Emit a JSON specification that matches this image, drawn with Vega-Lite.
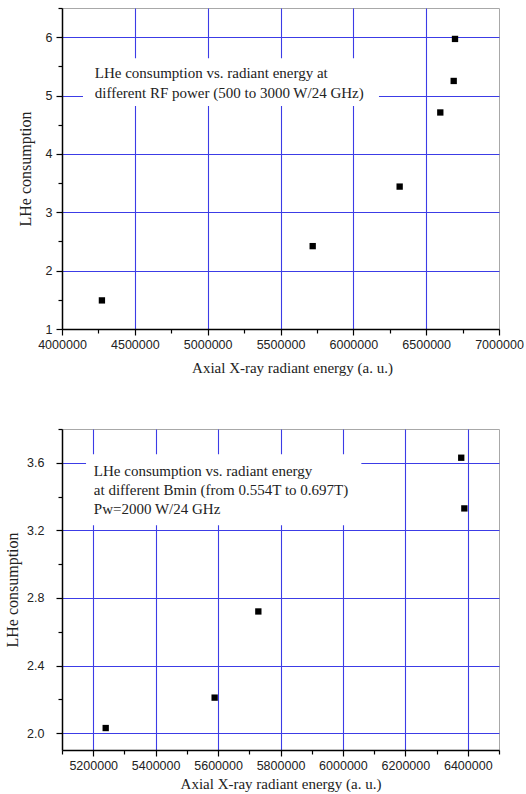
{
  "$schema": "https://vega.github.io/schema/vega-lite/v6.json",
  "padding": {"left": 4, "top": 1, "right": 0, "bottom": 0},
  "bounds": "flush",
  "spacing": 100,
  "datasets": {
    "top": [
      {"energy": 4274000, "lhe": 1.49},
      {"energy": 5721000, "lhe": 2.42},
      {"energy": 6318000, "lhe": 3.44},
      {"energy": 6597000, "lhe": 4.71},
      {"energy": 6689000, "lhe": 5.25},
      {"energy": 6698000, "lhe": 5.97}
    ],
    "bottom": [
      {"energy": 5240000, "lhe": 2.03},
      {"energy": 5589000, "lhe": 2.21},
      {"energy": 5729000, "lhe": 2.72},
      {"energy": 6379000, "lhe": 3.63},
      {"energy": 6389000, "lhe": 3.33}
    ]
  },
  "config": {
    "view": {"stroke": "#a8a8a8", "strokeWidth": 1},
    "axis": {
      "domainColor": "black", "domainWidth": 1.5,
      "tickColor": "black", "tickWidth": 1.2, "tickCount": 100,
      "grid": true, "gridColor": "#3c3ce6", "gridWidth": 1.1,
      "labelFont": "Liberation Sans", "labelFontSize": 12.5, "labelColor": "#222",
      "titleFont": "Liberation Serif", "titleFontSize": 15, "titleFontWeight": "normal", "titleColor": "#222",
      "labelFlush": false, "labelOverlap": false
    },
    "axisY": {"titleFontSize": 16}
  },
  "vconcat": [
    {
      "width": 437, "height": 321,
      "layer": [
        {
          "data": {"name": "top"},
          "mark": {"type": "point", "shape": "square", "filled": true, "color": "black", "size": 40, "opacity": 1},
          "encoding": {
            "x": {
              "field": "energy", "type": "quantitative",
              "scale": {"domain": [4000000, 7000000], "nice": false, "zero": false},
              "axis": {
                "title": "Axial X-ray radiant energy (a. u.)",
                "values": [4000000, 4250000, 4500000, 4750000, 5000000, 5250000, 5500000, 5750000, 6000000, 6250000, 6500000, 6750000, 7000000],
                "format": "d",
                "labelExpr": "datum.value % 500000 === 0 ? datum.label : ''",
                "tickSize": {"condition": {"test": "datum.value % 500000 === 0", "value": 6}, "value": 4},
                "gridOpacity": {"condition": {"test": "datum.value % 500000 === 0 && datum.value > 4000000 && datum.value < 7000000", "value": 1}, "value": 0},
                "labelPadding": 3,
                "titlePadding": 10,
                "titleX": 230
              }
            },
            "y": {
              "field": "lhe", "type": "quantitative",
              "scale": {"domain": [1, 6.5], "nice": false, "zero": false},
              "axis": {
                "title": "LHe consumption",
                "values": [1, 1.5, 2, 2.5, 3, 3.5, 4, 4.5, 5, 5.5, 6, 6.5],
                "labelExpr": "datum.value % 1 === 0 ? format(datum.value, 'd') : ''",
                "tickSize": {"condition": {"test": "datum.value % 1 === 0", "value": 6}, "value": 4},
                "gridOpacity": {"condition": {"test": "datum.value % 1 === 0 && datum.value > 1", "value": 1}, "value": 0},
                "labelPadding": 4,
                "titlePadding": 12
              }
            }
          }
        },
        {
          "data": {"values": [{}]},
          "mark": {"type": "rect", "color": "white", "opacity": 1},
          "encoding": {
            "x": {"datum": 4144000}, "x2": {"datum": 6176000},
            "y": {"datum": 5.64}, "y2": {"datum": 4.82}
          }
        },
        {
          "data": {"values": [{}]},
          "mark": {
            "type": "text", "align": "left", "baseline": "top",
            "font": "Liberation Serif", "fontSize": 15, "lineHeight": 20, "color": "#222",
            "text": ["LHe consumption vs. radiant energy at", "different RF power (500 to 3000 W/24 GHz)"]
          },
          "encoding": {"x": {"datum": 4225000}, "y": {"datum": 5.51}}
        }
      ]
    },
    {
      "width": 437, "height": 321,
      "layer": [
        {
          "data": {"name": "bottom"},
          "mark": {"type": "point", "shape": "square", "filled": true, "color": "black", "size": 40, "opacity": 1},
          "encoding": {
            "x": {
              "field": "energy", "type": "quantitative",
              "scale": {"domain": [5100000, 6500000], "nice": false, "zero": false},
              "axis": {
                "title": "Axial X-ray radiant energy (a. u.)",
                "values": [5100000, 5200000, 5300000, 5400000, 5500000, 5600000, 5700000, 5800000, 5900000, 6000000, 6100000, 6200000, 6300000, 6400000, 6500000],
                "format": "d",
                "labelExpr": "datum.value % 200000 === 0 ? datum.label : ''",
                "tickSize": {"condition": {"test": "datum.value % 200000 === 0", "value": 6}, "value": 4},
                "gridOpacity": {"condition": {"test": "datum.value % 200000 === 0", "value": 1}, "value": 0},
                "labelPadding": 3,
                "titlePadding": 5
              }
            },
            "y": {
              "field": "lhe", "type": "quantitative",
              "scale": {"domain": [1.9, 3.8], "nice": false, "zero": false},
              "axis": {
                "title": "LHe consumption",
                "values": [2.0, 2.2, 2.4, 2.6, 2.8, 3.0, 3.2, 3.4, 3.6, 3.8],
                "labelExpr": "round(datum.value * 10) % 4 === 0 ? format(datum.value, '.1f') : ''",
                "tickSize": {"condition": {"test": "round(datum.value * 10) % 4 === 0", "value": 6}, "value": 4},
                "gridOpacity": {"condition": {"test": "round(datum.value * 10) % 4 === 0", "value": 1}, "value": 0},
                "labelPadding": 12,
                "titlePadding": 6
              }
            }
          }
        },
        {
          "data": {"values": [{}]},
          "mark": {"type": "rect", "color": "white", "opacity": 1},
          "encoding": {
            "x": {"datum": 5177000}, "x2": {"datum": 6059000},
            "y": {"datum": 3.651}, "y2": {"datum": 3.23}
          }
        },
        {
          "data": {"values": [{}]},
          "mark": {
            "type": "text", "align": "left", "baseline": "top",
            "font": "Liberation Serif", "fontSize": 15, "lineHeight": 19, "color": "#222",
            "text": ["LHe consumption vs. radiant energy", "at different Bmin (from 0.554T to 0.697T)", "Pw=2000 W/24 GHz"]
          },
          "encoding": {"x": {"datum": 5202000}, "y": {"datum": 3.59}}
        }
      ]
    }
  ]
}
